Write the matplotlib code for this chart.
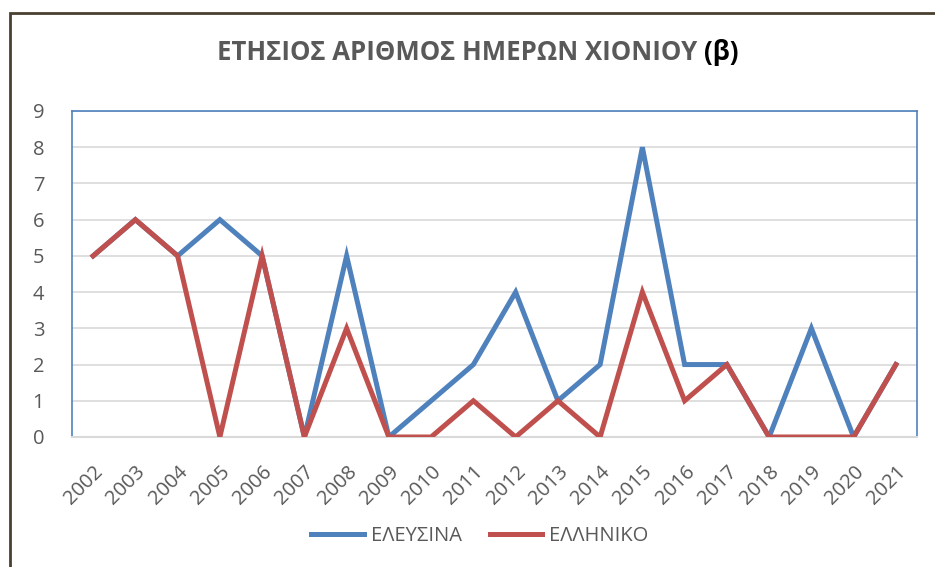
import matplotlib
matplotlib.use("Agg")
import matplotlib.pyplot as plt
from matplotlib.patches import Rectangle

years = ["2002", "2003", "2004", "2005", "2006", "2007", "2008", "2009", "2010", "2011",
         "2012", "2013", "2014", "2015", "2016", "2017", "2018", "2019", "2020", "2021"]
elefsina = [5, 6, 5, 6, 5, 0, 5, 0, 1, 2, 4, 1, 2, 8, 2, 2, 0, 3, 0, 2]
elliniko = [5, 6, 5, 0, 5, 0, 3, 0, 0, 1, 0, 1, 0, 4, 1, 2, 0, 0, 0, 2]

plt.rcParams["font.family"] = ["Open Sans", "DejaVu Sans"]
GRAY = "#595959"

fig = plt.figure(figsize=(9.35, 5.67), dpi=100)
ax = fig.add_axes([72 / 935, 1 - 437 / 567, 845 / 935, 326 / 567])

x = range(len(years))
ax.plot(x, elefsina, color="#4f81bd", lw=3.6, label="ΕΛΕΥΣΙΝΑ", solid_joinstyle="miter", zorder=3)
ax.plot(x, elliniko, color="#c0504d", lw=3.6, label="ΕΛΛΗΝΙΚΟ", solid_joinstyle="miter", zorder=4)

ax.set_xlim(-0.5, len(years) - 0.5)
ax.set_ylim(0, 9)
ax.set_yticks(range(10))
ax.set_xticks(list(x))
ax.set_xticklabels(years, rotation=45, ha="right", rotation_mode="anchor")
ax.tick_params(length=0, labelsize=14.5, colors=GRAY)
ax.tick_params(axis="x", pad=18)
ax.tick_params(axis="y", pad=20)
ax.grid(axis="y", color="#d9d9d9", lw=1.2)
ax.set_axisbelow(True)
for s in ["left", "top", "right"]:
    ax.spines[s].set_color("#4f81bd")
    ax.spines[s].set_linewidth(1.2)
ax.spines["bottom"].set_color("#d9d9d9")
ax.spines["bottom"].set_linewidth(1.5)

leg = fig.legend(loc="center", bbox_to_anchor=(480 / 935, 1 - 536 / 567), ncol=2,
                 frameon=False, fontsize=14.5, handlelength=2.6, columnspacing=1.4,
                 handletextpad=0.35)
for t in leg.get_texts():
    t.set_color(GRAY)

# title: grey part plus black "(β)"
t1 = fig.text(0, 1 - 53 / 567, "ΕΤΗΣΙΟΣ ΑΡΙΘΜΟΣ ΗΜΕΡΩΝ ΧΙΟΝΙΟΥ ", fontsize=18.5,
              fontweight="bold", color=GRAY, va="center", ha="left")
t2 = fig.text(0, 1 - 53 / 567, "(β)", fontsize=18.5, fontweight="bold", color="black",
              va="center", ha="left")
fig.canvas.draw()
r = fig.canvas.get_renderer()
w1 = t1.get_window_extent(r).width
w2 = t2.get_window_extent(r).width
x0 = 478 - (w1 + w2) / 2
t1.set_x(x0 / 935)
t2.set_x((x0 + w1) / 935)

# outer chart border (clipped on the right and bottom in the reference)
fig.patches.append(Rectangle((10 / 935, -0.1), 1.2, 1 - 13 / 567 + 0.1, transform=fig.transFigure,
                             fill=False, edgecolor="#4a4030", lw=2))

fig.savefig("out.png", dpi=100)
